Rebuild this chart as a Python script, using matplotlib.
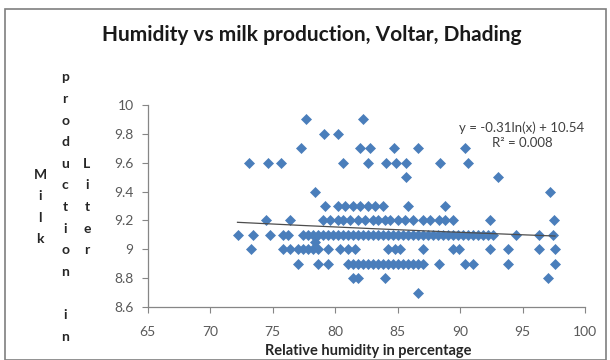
import numpy as np
import matplotlib
matplotlib.use("Agg")
import matplotlib.pyplot as plt
from matplotlib.patches import Rectangle

plt.rcParams['font.family'] = ['Lato', 'DejaVu Sans']

# ---- data: humidity (%) grouped by milk production (liter)
rows = {
    9.9: [77.7, 82.2],
    9.8: [79.1, 80.2],
    9.7: [77.3, 82.0, 82.8, 84.7, 86.6, 90.4],
    9.6: [73.1, 74.6, 75.7, 80.6, 82.6, 84.1, 84.9, 85.7, 88.4, 90.6],
    9.5: [85.7, 93.0],
    9.4: [78.4, 97.2],
    9.3: [79.2, 80.2, 80.8, 81.4, 82.0, 82.6, 83.2, 83.8, 85.8, 88.8],
    9.2: [74.5, 76.4, 79.0, 79.6, 80.2, 80.6, 81.2, 81.8, 82.4, 83.0, 83.4, 84.0,
          84.4, 85.0, 85.6, 86.2, 87.0, 87.6, 88.3, 88.8, 89.4, 92.4, 97.5],
    9.1: [72.2, 73.4, 74.8, 75.8, 76.2, 77.4, 77.8, 78.2, 78.6, 79.0, 79.4, 79.8,
          80.2, 80.6, 81.0, 81.4, 81.8, 82.2, 82.6, 83.0, 83.4, 83.8, 84.2, 84.6,
          85.0, 85.4, 85.8, 86.2, 86.6, 87.0, 87.4, 87.8, 88.2, 88.6, 89.0, 89.4,
          89.8, 90.2, 90.6, 91.0, 91.4, 91.8, 92.2, 92.6, 94.5, 96.3, 97.4],
    9.05: [78.4],
    9.0: [73.3, 75.8, 76.4, 77.0, 77.4, 77.8, 78.2, 78.6, 79.4, 80.4, 81.0, 81.6,
          84.2, 84.8, 85.2, 87.0, 89.4, 89.9, 92.4, 93.8, 96.3, 97.6],
    8.9: [77.0, 78.6, 79.4, 81.0, 81.4, 81.8, 82.2, 82.6, 83.0, 83.4, 83.8, 84.2,
          84.6, 85.0, 85.4, 85.8, 86.2, 86.6, 87.0, 88.3, 90.4, 91.0, 93.8, 97.6],
    8.8: [81.4, 81.8, 84.0, 97.0],
    8.7: [86.6],
}
humidity = np.array([x for y, xs in rows.items() for x in xs])
milk = np.array([y for y, xs in rows.items() for x in xs])

# logarithmic trend line y = a ln(x) + b
trend_a = -0.315
trend_b = 10.535
eq_text = "y = -0.31ln(x) + 10.54"
r2_text = "R\u00b2 = 0.008"

x_ticks = [65, 70, 75, 80, 85, 90, 95, 100]
y_ticks = [8.6, 8.8, 9.0, 9.2, 9.4, 9.6, 9.8, 10.0]

title = "Humidity vs milk production, Voltar, Dhading"
xlabel = "Relative humidity in percentage"
ylabel_cols = ["Milk", "production in", "Liter"]

# ---- figure
W, H = 610, 360
fig = plt.figure(figsize=(W / 100, H / 100), dpi=100)
fig.patch.set_facecolor("white")

# chart-area border
fig.patches.append(Rectangle((5 / W, 0.0), 601 / W, 1 - 9 / H, transform=fig.transFigure,
                             fill=False, edgecolor="#7f7f7f", linewidth=1.2))

ax = fig.add_axes([147.5 / W, 1 - 307 / H, (585 - 147.5) / W, (307 - 105) / H])
ax.set_xlim(65, 100)
ax.set_ylim(8.6, 10.0)

blue = "#4a7ebb"
ax.plot(humidity, milk, linestyle="none", marker="D", markersize=5.6,
        markerfacecolor=blue, markeredgecolor=blue, markeredgewidth=0.5, zorder=3)

xt = np.linspace(humidity.min(), humidity.max(), 200)
ax.plot(xt, trend_a * np.log(xt) + trend_b, color="#4d4d4d", linewidth=0.9, zorder=4)

ax.set_xticks(x_ticks)
ax.set_yticks(y_ticks)
ax.set_xticklabels([f"{v:g}" for v in x_ticks])
ax.set_yticklabels([f"{v:g}" for v in y_ticks])
for s in ["top", "right"]:
    ax.spines[s].set_visible(False)
for s in ["left", "bottom"]:
    ax.spines[s].set_color("#868686")
    ax.spines[s].set_linewidth(0.9)
ax.tick_params(axis="both", direction="out", length=4, width=0.8, color="#868686",
               labelsize=10, labelcolor="#595959")
ax.tick_params(axis="x", pad=10)
ax.tick_params(axis="y", pad=6)

ax.text(522 / W, 1 - 128 / H, eq_text, transform=fig.transFigure, ha="center",
        va="center", fontsize=9.5, color="#404040")
ax.text(522 / W, 1 - 143 / H, r2_text, transform=fig.transFigure, ha="center",
        va="center", fontsize=9.5, color="#404040")

fig.text(312 / W, 1 - 35 / H, title, ha="center", va="center", fontsize=15,
         fontweight="bold", color="#1a1a1a")
fig.text(368 / W, 1 - 351 / H, xlabel, ha="center", va="center", fontsize=10.5,
         fontweight="bold", color="#262626")

# stacked vertical axis title (letters one under another, in three columns)
col_x = [40, 65, 87]
spacing = 21.6
center_y = 207
for cx, word in zip(col_x, ylabel_cols):
    n = len(word)
    y0 = center_y - spacing * (n - 1) / 2
    for i, ch in enumerate(word):
        if ch.strip():
            fig.text(cx / W, 1 - (y0 + i * spacing) / H, ch, ha="center", va="center",
                     fontsize=10, fontweight="bold", color="#262626")

fig.savefig("out.png", dpi=100)
